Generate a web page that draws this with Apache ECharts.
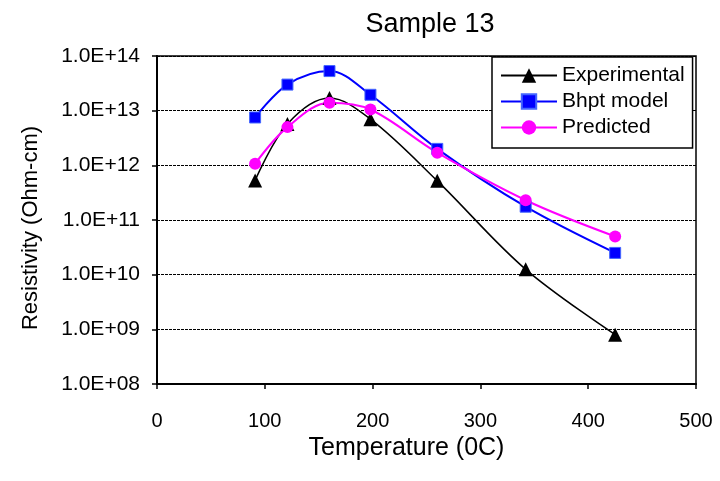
<!DOCTYPE html>
<html>
<head>
<meta charset="utf-8">
<script src="https://cdn.jsdelivr.net/npm/echarts@6/dist/echarts.min.js"></script>
<style>
  html, body { margin: 0; padding: 0; background: #fff; }
  #chart { width: 720px; height: 481px; }
</style>
</head>
<body>
<div id="chart"></div>
<script>
// temperatures (0C) at which the sample was measured
const temperatures = [91, 121, 160, 198, 260, 342, 425];
// resistivity in Ohm-cm
const experimental = [5.3e11, 5.7e12, 1.7e13, 7.0e12, 5.2e11, 1.25e10, 8.0e8];
const bhptModel = [7.5e12, 3.0e13, 5.3e13, 1.95e13, 2.0e12, 1.75e11, 2.5e10];
const predicted = [1.07e12, 5.0e12, 1.4e13, 1.05e13, 1.7e12, 2.3e11, 5.0e10];

const seriesNames = ['Experimental', 'Bhpt model', 'Predicted'];

const font = 'Liberation Sans, Arial, sans-serif';

function pairs(values) {
  return temperatures.map((t, i) => [t, values[i]]);
}

const chart = echarts.init(document.getElementById('chart'));

chart.setOption({
  animation: false,
  backgroundColor: '#fff',
  title: {
    text: 'Sample 13',
    left: 425,
    top: 6,
    textAlign: 'center',
    textStyle: { fontFamily: font, fontSize: 27, fontWeight: 'normal', color: '#000' },
  },
  grid: {
    left: 157,
    right: 24,
    top: 56,
    bottom: 97,
    show: true,
    borderColor: '#000',
    borderWidth: 1.5,
  },
  legend: {
    orient: 'vertical',
    left: 492,
    top: 57,
    data: seriesNames,
    itemWidth: 56,
    itemHeight: 18,
    itemGap: 5,
    padding: [8, 8, 10, 8],
    borderColor: '#000',
    borderWidth: 1.5,
    backgroundColor: '#fff',
    textStyle: { fontFamily: font, fontSize: 21, color: '#000' },
  },
  xAxis: {
    type: 'value',
    min: 0,
    max: 500,
    interval: 100,
    name: 'Temperature (0C)',
    nameLocation: 'middle',
    nameGap: 43,
    nameTextStyle: { fontFamily: font, fontSize: 25, color: '#000', padding: [0, 40, 0, 0] },
    axisLine: { lineStyle: { color: '#000', width: 2 } },
    axisTick: { show: true, inside: false, length: 5, lineStyle: { color: '#000', width: 1.5 } },
    axisLabel: { margin: 27, fontFamily: font, fontSize: 20, color: '#000' },
    splitLine: { show: false },
  },
  yAxis: {
    type: 'log',
    logBase: 10,
    min: 1e8,
    max: 1e14,
    name: 'Resistivity (Ohm-cm)',
    nameLocation: 'middle',
    nameGap: 115,
    nameTextStyle: { fontFamily: font, fontSize: 22, color: '#000', padding: [0, 16, 0, 0] },
    axisLine: { show: true, lineStyle: { color: '#000', width: 2 } },
    axisTick: { show: true, inside: false, length: 5, lineStyle: { color: '#000', width: 1.5 } },
    axisLabel: {
      margin: 17,
      fontFamily: font,
      fontSize: 21,
      color: '#000',
      formatter: (v) => {
        const e = Math.round(Math.log10(v));
        return '1.0E+' + String(e).padStart(2, '0');
      },
    },
    splitLine: { show: true, lineStyle: { color: '#000', width: 1, type: [3, 1] } },
    minorTick: { show: false },
  },
  series: [
    {
      name: seriesNames[0],
      type: 'line',
      data: pairs(experimental),
      smooth: 0.35,
      symbol: 'triangle',
      symbolSize: 14,
      itemStyle: { color: '#000' },
      lineStyle: { color: '#000', width: 1.5 },
    },
    {
      name: seriesNames[1],
      type: 'line',
      data: pairs(bhptModel),
      smooth: 0.35,
      symbol: 'rect',
      symbolSize: 11,
      itemStyle: { color: '#0000ff', borderColor: '#4466ff', borderWidth: 1 },
      lineStyle: { color: '#0000ff', width: 2 },
    },
    {
      name: seriesNames[2],
      type: 'line',
      data: pairs(predicted),
      smooth: 0.35,
      symbol: 'circle',
      symbolSize: 12,
      itemStyle: { color: '#ff00ff' },
      lineStyle: { color: '#ff00ff', width: 2 },
    },
  ],
});
</script>
</body>
</html>
